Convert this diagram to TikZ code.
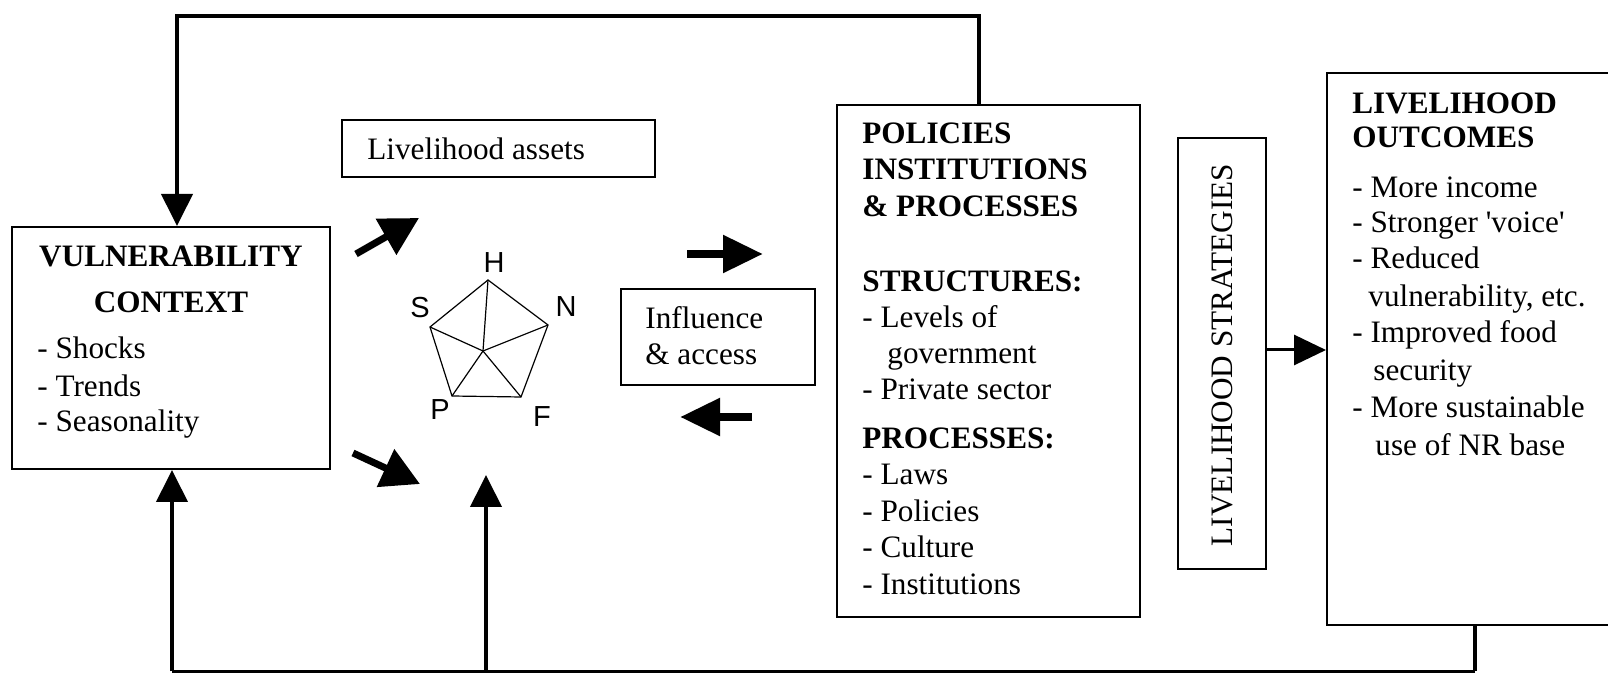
\documentclass[tikz,border=0pt]{standalone}
\usepackage{fontspec}
\setmainfont{Liberation Serif}
\newfontfamily\pentafont{Liberation Sans}
\usetikzlibrary{arrows.meta,fit}

\begin{document}
\begin{tikzpicture}[x=0.5pt,y=-0.5pt,
  box/.style={draw, line width=1pt, inner sep=0pt},
  txt/.style={inner sep=0pt, anchor=base west, font=\fontsize{15.6pt}{18pt}\selectfont},
  hd/.style={txt, font=\fontsize{15.6pt}{18pt}\selectfont\bfseries},
  pl/.style={inner sep=0pt, font=\pentafont\fontsize{14.5pt}{17pt}\selectfont},
  link/.style={line width=2pt, -{Triangle[length=16pt,width=15.5pt]}},
  slink/.style={line width=1.5pt, -{Triangle[length=16pt,width=15pt]}},
  block/.style={line width=4.2pt, -{Triangle[length=20pt,width=18pt]}},
  diag/.style={line width=3.5pt, -{Triangle[length=19pt,width=20pt]}},
  spoke/.style={line width=0.6pt}
]
\useasboundingbox (0,0) rectangle (1608,673);
\clip (0,0) rectangle (1608,673);

% boxes
\node[box, fit={(12,227) (330,469)}] (vuln) {};
\node[box, fit={(342,120) (655,177)}] (assets) {};
\node[box, fit={(621,289) (815,385)}] (infl) {};
\node[box, fit={(837,105) (1140,617)}] (pip) {};
\node[box, fit={(1178,138) (1266,569)}] (strat) {};
\node[box, fit={(1327,73) (1660,625)}] (outc) {};

% vulnerability context
\node[hd, anchor=base] (v1) at (171,267) {VULNERABILITY};
\node[hd, anchor=base] (v2) at (171,313) {CONTEXT};
\node[txt] (v3) at (37,359) {- Shocks};
\node[txt] (v4) at (37,397) {- Trends};
\node[txt] (v5) at (37,432) {- Seasonality};

% assets and influence
\node[txt] (a1) at (367,160) {Livelihood assets};
\node[txt] (i1) at (645,329) {Influence};
\node[txt] (i2) at (645,365) {\& access};

% policies, institutions and processes
\node[hd] (p1) at (862,144) {POLICIES};
\node[hd] (p2) at (862,180) {INSTITUTIONS};
\node[hd] (p3) at (862,217) {\& PROCESSES};
\node[hd] (p4) at (862,292) {STRUCTURES:};
\node[txt] (p5) at (862,328) {- Levels of};
\node[txt] (p6) at (887,364) {government};
\node[txt] (p7) at (862,400) {- Private sector};
\node[hd] (p8) at (862,449) {PROCESSES:};
\node[txt] (p9) at (862,485) {- Laws};
\node[txt] (p10) at (862,522) {- Policies};
\node[txt] (p11) at (862,558) {- Culture};
\node[txt] (p12) at (862,595) {- Institutions};

% strategies
\node[inner sep=0pt, rotate=90, font=\fontsize{15.6pt}{18pt}\selectfont] (s1) at (1222,355) {LIVELIHOOD STRATEGIES};

% outcomes
\node[hd] (o1) at (1352,114) {LIVELIHOOD};
\node[hd] (o2) at (1352,148) {OUTCOMES};
\node[txt] (o3) at (1352,198) {- More income};
\node[txt] (o4) at (1352,233) {- Stronger \textquotesingle voice\textquotesingle};
\node[txt] (o5) at (1352,269) {- Reduced};
\node[txt] (o6) at (1368,307) {vulnerability, etc.};
\node[txt] (o7) at (1352,343) {- Improved food};
\node[txt] (o8) at (1373,381) {security};
\node[txt] (o9) at (1352,418) {- More sustainable};
\node[txt] (o10) at (1375,456) {use of NR base};

% asset pentagon
\coordinate (vH) at (488,280);
\coordinate (vN) at (548,325);
\coordinate (vF) at (521,397);
\coordinate (vP) at (452,396);
\coordinate (vS) at (430,327);
\coordinate (vC) at (483,351);
\draw[spoke] (vH) -- (vN) -- (vF) -- (vP) -- (vS) -- cycle;
\foreach \v in {vH,vN,vF,vP,vS} \draw[spoke] (vC) -- (\v);
\node[pl] (lH) at (494,263) {H};
\node[pl] (lN) at (566,307) {N};
\node[pl] (lF) at (542,417) {F};
\node[pl] (lP) at (440,410) {P};
\node[pl] (lS) at (420,308) {S};

% block arrows around the pentagon
\coordinate (d1s) at (356,254);
\coordinate (d1e) at (419,218);
\coordinate (d2s) at (353,453);
\coordinate (d2e) at (420,484);
\draw[diag] (d1s) -- (d1e);
\draw[diag] (d2s) -- (d2e);
\coordinate (r1s) at (687,254);
\coordinate (r1e) at (763,254);
\coordinate (r2s) at (752,417);
\coordinate (r2e) at (680,417);
\draw[block] (r1s) -- (r1e);
\draw[block] (r2s) -- (r2e);

% feedback from policies to vulnerability context
\coordinate (topR) at (979,16);
\coordinate (topL) at (177,16);
\draw[line width=1.75pt] (pip.north -| topR) -- (topR);
\draw[line width=2.25pt, line cap=rect] (topR) -- (topL);
\draw[link] (topL) -- (topL |- vuln.north);

% strategies to outcomes
\draw[slink] (strat.east |- 0,350) -- (outc.west |- 0,350);

% feedback from outcomes along the bottom
\coordinate (botR) at (1475,671.5);
\coordinate (botL) at (172,671.5);
\coordinate (botM) at (486,671.5);
\coordinate (assetsIn) at (486,475);
\draw[line width=2.25pt] (outc.south -| botR) -- (botR);
\draw[line width=1.2pt] (botR) -- (botL);
\draw[link] (botL) -- (botL |- vuln.south);
\draw[link] (botM) -- (assetsIn);
\end{tikzpicture}
\end{document}
